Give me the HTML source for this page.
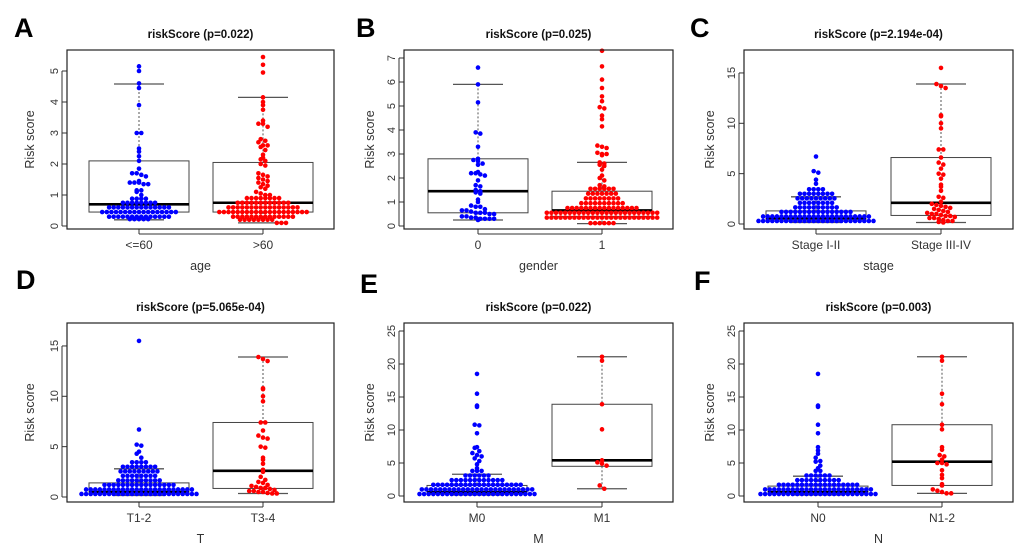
<!DOCTYPE html>
<html><head><meta charset="utf-8"><style>
html,body{margin:0;padding:0;background:#fff;}
svg{display:block;font-family:"Liberation Sans",Arial,sans-serif;}
</style></head><body>
<svg id="fig" width="1020" height="546" viewBox="0 0 1020 546"></svg>
<script>
// ---- data ----
const titles = ["riskScore (p=0.022)","riskScore (p=0.025)","riskScore (p=2.194e-04)","riskScore (p=5.065e-04)","riskScore (p=0.022)","riskScore (p=0.003)"];
const xTitles = ["age","gender","stage","T","M","N"];
const panelLetters = ["A","B","C","D","E","F"];
const categoriesA = ["<=60",">60"];
const categoriesB = ["0","1"];
const categoriesC = ["Stage I-II","Stage III-IV"];
const categoriesD = ["T1-2","T3-4"];
const categoriesE = ["M0","M1"];
const categoriesF = ["N0","N1-2"];
const ticksA = [0,1,2,3,4,5];
const ticksB = [0,1,2,3,4,5,6,7];
const ticksC = [0,5,10,15];
const ticksD = [0,5,10,15];
const ticksE = [0,5,10,15,20,25];
const ticksF = [0,5,10,15,20,25];
// box stats: [whiskerLow, q1, median, q3, whiskerHigh]
const boxA = [[0.2,0.45,0.7,2.1,4.58],[0.1,0.45,0.75,2.05,4.15]];
const boxB = [[0.25,0.55,1.45,2.8,5.9],[0.1,0.4,0.65,1.45,2.65]];
const boxC = [[0.15,0.3,0.55,1.3,2.7],[0.15,0.85,2.1,6.6,13.9]];
const boxD = [[0.15,0.3,0.5,1.4,2.8],[0.35,0.85,2.6,7.4,13.9]];
const boxE = [[0.15,0.3,0.6,1.6,3.3],[1.1,4.5,5.4,13.9,21.1]];
const boxF = [[0.15,0.3,0.6,1.5,3.0],[0.4,1.6,5.2,10.8,21.1]];
// points
const ptsA1 = [5.15,5.0,4.6,4.45,3.9,3.0,3.0,2.5,2.4,2.25,2.1,1.85,1.7,1.7,1.65,1.6,1.45,1.4,1.4,1.4,1.35,1.35,1.15,1.15,1.1,1.0,0.88,0.88,0.88,0.88,0.75,0.75,0.75,0.75,0.75,0.75,0.75,0.75,0.6,0.6,0.6,0.6,0.6,0.6,0.6,0.6,0.6,0.6,0.6,0.6,0.6,0.6,0.45,0.45,0.45,0.45,0.45,0.45,0.45,0.45,0.45,0.45,0.45,0.45,0.45,0.45,0.45,0.45,0.45,0.3,0.3,0.3,0.3,0.3,0.3,0.3,0.3,0.3,0.3,0.3,0.3,0.3,0.3,0.22,0.22,0.22,0.22,0.22];
const ptsA2 = [5.45,5.2,4.95,4.15,4.0,3.9,3.75,3.4,3.3,3.3,3.2,2.8,2.75,2.7,2.6,2.6,2.55,2.45,2.3,2.2,2.15,2.1,2.0,1.95,1.7,1.65,1.6,1.55,1.5,1.45,1.4,1.35,1.3,1.25,1.2,1.1,1.05,1.0,1.0,0.9,0.9,0.9,0.9,0.9,0.9,0.9,0.9,0.75,0.75,0.75,0.75,0.75,0.75,0.75,0.75,0.75,0.75,0.75,0.75,0.6,0.6,0.6,0.6,0.6,0.6,0.6,0.6,0.6,0.6,0.6,0.6,0.6,0.6,0.6,0.6,0.45,0.45,0.45,0.45,0.45,0.45,0.45,0.45,0.45,0.45,0.45,0.45,0.45,0.45,0.45,0.45,0.45,0.45,0.45,0.45,0.3,0.3,0.3,0.3,0.3,0.3,0.3,0.3,0.3,0.3,0.3,0.3,0.3,0.3,0.2,0.2,0.2,0.2,0.2,0.2,0.2,0.2,0.1,0.1,0.1];
const ptsB1 = [6.6,5.9,5.15,3.9,3.85,3.3,2.8,2.75,2.7,2.6,2.55,2.25,2.2,2.2,2.15,2.1,1.9,1.7,1.65,1.5,1.45,1.4,1.35,1.1,1.0,0.85,0.8,0.8,0.7,0.65,0.65,0.6,0.55,0.55,0.55,0.5,0.5,0.4,0.4,0.35,0.35,0.3,0.3,0.3,0.3,0.25];
const ptsB2 = [7.3,6.65,6.1,5.75,5.4,5.2,4.95,4.9,4.6,4.45,4.15,3.35,3.3,3.25,3.05,3.0,3.0,2.95,2.65,2.6,2.55,2.5,2.35,2.1,2.0,1.9,1.7,1.65,1.55,1.55,1.55,1.55,1.55,1.55,1.35,1.35,1.35,1.35,1.35,1.35,1.35,1.15,1.15,1.15,1.15,1.15,1.15,1.15,1.15,0.95,0.95,0.95,0.95,0.95,0.95,0.95,0.95,0.95,0.95,0.75,0.75,0.75,0.75,0.75,0.75,0.75,0.75,0.75,0.75,0.75,0.75,0.75,0.75,0.75,0.75,0.55,0.55,0.55,0.55,0.55,0.55,0.55,0.55,0.55,0.55,0.55,0.55,0.55,0.55,0.55,0.55,0.55,0.55,0.55,0.55,0.55,0.55,0.55,0.55,0.55,0.35,0.35,0.35,0.35,0.35,0.35,0.35,0.35,0.35,0.35,0.35,0.35,0.35,0.35,0.35,0.35,0.35,0.35,0.35,0.35,0.35,0.35,0.35,0.35,0.35,0.12,0.12,0.12,0.12,0.12,0.12];
const ptsC1 = [6.7,5.25,5.1,4.4,4.0,3.45,3.45,3.45,3.45,3.0,3.0,3.0,3.0,3.0,3.0,3.0,3.0,2.55,2.55,2.55,2.55,2.55,2.55,2.55,2.55,2.55,2.1,2.1,2.1,2.1,2.1,2.1,2.1,2.1,1.65,1.65,1.65,1.65,1.65,1.65,1.65,1.65,1.65,1.65,1.2,1.2,1.2,1.2,1.2,1.2,1.2,1.2,1.2,1.2,1.2,1.2,1.2,1.2,1.2,1.2,0.75,0.75,0.75,0.75,0.75,0.75,0.75,0.75,0.75,0.75,0.75,0.75,0.75,0.75,0.75,0.75,0.75,0.75,0.75,0.75,0.75,0.75,0.75,0.75,0.3,0.3,0.3,0.3,0.3,0.3,0.3,0.3,0.3,0.3,0.3,0.3,0.3,0.3,0.3,0.3,0.3,0.3,0.3,0.3,0.3,0.3,0.3,0.3,0.3,0.3];
const ptsC2 = [15.5,13.9,13.7,13.5,10.8,10.7,10.0,9.5,7.4,7.4,6.6,6.1,5.9,5.5,5.0,4.9,4.5,3.9,3.7,3.3,2.7,2.6,2.2,2.0,1.9,1.8,1.7,1.6,1.5,1.4,1.3,1.2,1.1,1.0,1.0,0.9,0.8,0.8,0.7,0.6,0.6,0.5,0.4,0.3,0.3,0.2,0.15];
const ptsD1 = [15.5,6.7,5.2,5.1,4.5,4.3,3.9,3.45,3.45,3.45,3.45,3.0,3.0,3.0,3.0,3.0,3.0,3.0,3.0,2.55,2.55,2.55,2.55,2.55,2.55,2.55,2.55,2.55,2.1,2.1,2.1,2.1,2.1,2.1,2.1,2.1,1.65,1.65,1.65,1.65,1.65,1.65,1.65,1.65,1.65,1.65,1.2,1.2,1.2,1.2,1.2,1.2,1.2,1.2,1.2,1.2,1.2,1.2,1.2,1.2,1.2,1.2,0.75,0.75,0.75,0.75,0.75,0.75,0.75,0.75,0.75,0.75,0.75,0.75,0.75,0.75,0.75,0.75,0.75,0.75,0.75,0.75,0.75,0.75,0.75,0.75,0.3,0.3,0.3,0.3,0.3,0.3,0.3,0.3,0.3,0.3,0.3,0.3,0.3,0.3,0.3,0.3,0.3,0.3,0.3,0.3,0.3,0.3,0.3,0.3,0.3,0.3];
const ptsD2 = [13.9,13.7,13.5,10.8,10.7,10.0,9.5,7.4,7.4,6.6,6.1,5.9,5.8,5.0,4.9,3.9,3.7,3.3,2.7,2.5,2.0,1.7,1.5,1.4,1.2,1.1,1.0,0.9,0.9,0.8,0.7,0.6,0.6,0.5,0.5,0.4,0.35,0.35];
const ptsE1 = [18.5,15.5,13.7,13.5,10.8,10.7,9.5,7.4,7.3,6.8,6.5,6.2,6.0,5.7,5.3,4.8,4.2,3.8,3.8,3.8,3.1,3.1,3.1,3.1,3.1,3.1,2.4,2.4,2.4,2.4,2.4,2.4,2.4,2.4,2.4,2.4,2.4,2.4,1.7,1.7,1.7,1.7,1.7,1.7,1.7,1.7,1.7,1.7,1.7,1.7,1.7,1.7,1.7,1.7,1.7,1.7,1.7,1.7,1.0,1.0,1.0,1.0,1.0,1.0,1.0,1.0,1.0,1.0,1.0,1.0,1.0,1.0,1.0,1.0,1.0,1.0,1.0,1.0,1.0,1.0,1.0,1.0,1.0,0.3,0.3,0.3,0.3,0.3,0.3,0.3,0.3,0.3,0.3,0.3,0.3,0.3,0.3,0.3,0.3,0.3,0.3,0.3,0.3,0.3,0.3,0.3,0.3,0.3,0.3];
const ptsE2 = [21.1,20.5,13.9,10.1,5.4,5.1,4.9,4.6,1.6,1.1];
const ptsF1 = [18.5,13.7,13.5,10.8,9.5,7.4,6.9,6.4,5.8,5.3,5.2,4.6,4.2,3.8,3.8,3.1,3.1,3.1,3.1,3.1,3.1,2.4,2.4,2.4,2.4,2.4,2.4,2.4,2.4,2.4,2.4,1.7,1.7,1.7,1.7,1.7,1.7,1.7,1.7,1.7,1.7,1.7,1.7,1.7,1.7,1.7,1.7,1.7,1.7,1.0,1.0,1.0,1.0,1.0,1.0,1.0,1.0,1.0,1.0,1.0,1.0,1.0,1.0,1.0,1.0,1.0,1.0,1.0,1.0,1.0,1.0,1.0,1.0,0.3,0.3,0.3,0.3,0.3,0.3,0.3,0.3,0.3,0.3,0.3,0.3,0.3,0.3,0.3,0.3,0.3,0.3,0.3,0.3,0.3,0.3,0.3,0.3,0.3,0.3];
const ptsF2 = [21.1,20.5,15.5,13.9,10.8,10.1,7.4,7.0,6.2,6.0,5.5,5.0,5.0,4.8,3.9,3.2,2.7,1.8,1.6,1.0,0.8,0.6,0.4,0.4];

// ---- layout (not data) ----
const layouts = [
 {ox:0,oy:0,L:67,R:334,zero:226,slope:31,cx:[139,263],lx:14,ly:37},
 {ox:340,oy:0,L:64,R:333,zero:226,slope:24,cx:[138,262],lx:16,ly:37},
 {ox:680,oy:0,L:64,R:333,zero:224,slope:10.07,cx:[136,261],lx:10,ly:37},
 {ox:0,oy:273,L:67,R:334,zero:224,slope:10.07,cx:[139,263],lx:16,ly:16},
 {ox:340,oy:273,L:64,R:333,zero:223,slope:6.6,cx:[137,262],lx:20,ly:20},
 {ox:680,oy:273,L:64,R:333,zero:223,slope:6.6,cx:[138,262],lx:14,ly:17}
];
const panelCats=[categoriesA,categoriesB,categoriesC,categoriesD,categoriesE,categoriesF];
const panelTicks=[ticksA,ticksB,ticksC,ticksD,ticksE,ticksF];
const panelBoxes=[boxA,boxB,boxC,boxD,boxE,boxF];
const panelPts=[[ptsA1,ptsA2],[ptsB1,ptsB2],[ptsC1,ptsC2],[ptsD1,ptsD2],[ptsE1,ptsE2],[ptsF1,ptsF2]];
const colors=["#0000ff","#ff0000"];
const NS="http://www.w3.org/2000/svg";
const svg=document.getElementById('fig');
function mk(tag,attrs,parent){const e=document.createElementNS(NS,tag);for(const k in attrs)e.setAttribute(k,attrs[k]);(parent||svg).appendChild(e);return e;}

// bin points into rows by pixel height, spread side by side
function rowLayout(ys,zero,D){
  const bins={};const out=new Array(ys.length);
  ys.forEach((y,i)=>{const b=Math.round((zero-y)/D);(bins[b]=bins[b]||[]).push(i);});
  Object.values(bins).forEach(idx=>{const n=idx.length;idx.forEach((i,j)=>{out[i]=(j-(n-1)/2)*D;});});
  return out;
}

for(let p=0;p<6;p++){
  const lay=layouts[p];
  const g=mk('g',{transform:`translate(${lay.ox},${lay.oy})`});
  
  
  const yS=v=>lay.zero-v*lay.slope;
  const top=50,bot=229;
  const letter=mk('text',{x:lay.lx,y:lay.ly,'font-size':27,'font-weight':'bold',fill:'#000'},g);
  letter.textContent=panelLetters[p];
  
  
  const t=mk('text',{x:(lay.L+lay.R)/2,y:38,'font-size':11.5,'font-weight':'bold','text-anchor':'middle',fill:'#111'},g);
  t.textContent=titles[p];
  
  
  panelTicks[p].forEach(v=>{
    const y=yS(v);
    mk('line',{x1:lay.L-5,x2:lay.L,y1:y,y2:y,stroke:'#333','stroke-width':1},g);
    const tl=mk('text',{x:0,y:0,transform:`translate(${lay.L-9},${y}) rotate(-90)`,'font-size':11,'text-anchor':'middle',fill:'#333'},g);
    tl.textContent=v;
    
    
  });
  mk('line',{x1:lay.L-5,x2:lay.L-5,y1:yS(panelTicks[p][0]),y2:yS(panelTicks[p][panelTicks[p].length-1]),stroke:'#333'},g);
  const yt=mk('text',{x:0,y:0,transform:`translate(34,${(top+bot)/2}) rotate(-90)`,'font-size':12.5,'text-anchor':'middle',fill:'#333'},g);
  yt.textContent='Risk score';
  
  
  for(let k=0;k<2;k++){
    const cx=lay.cx[k];const b=panelBoxes[p][k];
    mk('line',{x1:cx,x2:cx,y1:yS(b[4]),y2:yS(b[3]),stroke:'#555','stroke-dasharray':'2,2'},g);
    mk('line',{x1:cx,x2:cx,y1:yS(b[1]),y2:yS(b[0]),stroke:'#555','stroke-dasharray':'2,2'},g);
    mk('line',{x1:cx-25,x2:cx+25,y1:yS(b[4]),y2:yS(b[4]),stroke:'#555','stroke-width':1.3},g);
    mk('line',{x1:cx-25,x2:cx+25,y1:yS(b[0]),y2:yS(b[0]),stroke:'#555','stroke-width':1.3},g);
    const bx=mk('rect',{x:cx-50,y:yS(b[3]),width:100,height:yS(b[1])-yS(b[3]),fill:'none',stroke:'#444','stroke-width':1},g);
    
    
    mk('line',{x1:cx-50,x2:cx+50,y1:yS(b[2]),y2:yS(b[2]),stroke:'#000','stroke-width':2.6},g);
    const vals=panelPts[p][k];
    const ys=vals.map(yS);
    const xs=rowLayout(ys,lay.zero,4.6);
    vals.forEach((v,i)=>{
      const c=mk('circle',{cx:cx+xs[i],cy:ys[i],r:2.3,fill:colors[k]},g);
      
      
    });
    mk('line',{x1:cx,x2:cx,y1:bot,y2:bot+5,stroke:'#333'},g);
    const xl=mk('text',{x:cx,y:249,'font-size':12,'text-anchor':'middle',fill:'#333'},g);
    xl.textContent=panelCats[p][k];
    
    
  }
  mk('line',{x1:lay.cx[0],x2:lay.cx[1],y1:bot+5,y2:bot+5,stroke:'#333'},g);
  const fr=mk('rect',{x:lay.L,y:top,width:lay.R-lay.L,height:bot-top,fill:'none',stroke:'#222','stroke-width':1.2},g);
  
  
  const xt=mk('text',{x:(lay.L+lay.R)/2,y:270,'font-size':12.5,'text-anchor':'middle',fill:'#333'},g);
  xt.textContent=xTitles[p];
  
  
}
</script>
</body></html>
